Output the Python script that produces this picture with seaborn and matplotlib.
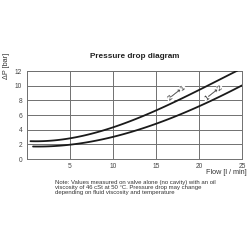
import matplotlib
matplotlib.use("Agg")
import matplotlib.pyplot as plt
import seaborn as sns
import numpy as np
import pandas as pd

flow_21 = [0.4, 5, 10, 12.8, 15, 20, 24.5]
dp_21 = [2.35, 3.05, 4.2, 5.4, 6.6, 9.6, 12.0]
flow_12 = [0.7, 5, 10, 12.8, 15, 20, 25]
dp_12 = [1.68, 2.0, 3.05, 3.9, 4.7, 7.3, 10.0]
xticks = [5, 10, 15, 20, 25]
yticks = [0, 2, 4, 6, 8, 10, 12]

def smooth(xs, ys, n=80):
    xs = np.asarray(xs, float); ys = np.asarray(ys, float)
    c = np.polyfit(xs, ys, 3)
    xx = np.linspace(xs[0], xs[-1], n)
    return xx, np.polyval(c, xx)

sns.set_theme(style="white")
plt.rcParams['font.family'] = ['Liberation Sans', 'DejaVu Sans']

fig = plt.figure(figsize=(2.5, 2.5), dpi=100)
ax = fig.add_axes([0.108, 0.364, 0.86, 0.352])

rows = []
for name, fx, fy in [("2→1", flow_21, dp_21), ("1→2", flow_12, dp_12)]:
    xx, yy = smooth(fx, fy)
    rows.append(pd.DataFrame({"flow": xx, "dp": yy, "dir": name}))
df = pd.concat(rows)
sns.lineplot(data=df, x="flow", y="dp", units="dir", estimator=None, color="#1a1a1a",
             lw=1.3, ax=ax, legend=False, zorder=3)

ax.set_xlim(0, 25)
ax.set_ylim(0, 12)
ax.set_yticks(yticks)
ax.set_xticks([0] + xticks)
ax.set_xticklabels([""] + [str(v) for v in xticks])
ax.grid(True, color="#707070", lw=0.7)
ax.set_axisbelow(True)
for s in ax.spines.values():
    s.set_color("#707070"); s.set_linewidth(0.7)
ax.tick_params(axis="both", labelsize=4.8, colors="#444444", length=2, width=0.6, pad=1.5)
ax.tick_params(axis="x", length=0, pad=3)
ax.set_xlabel(""); ax.set_ylabel("")

bb = dict(facecolor="white", edgecolor="none", pad=0.3)
ax.text(17.4, 8.9, "2⟶1", rotation=38, fontsize=6, ha="center", va="center",
        color="#333333", bbox=bb, zorder=2)
ax.text(21.7, 8.9, "1⟶2", rotation=38, fontsize=6, ha="center", va="center",
        color="#333333", bbox=bb, zorder=2)

fig.text(0.54, 0.772, "Pressure drop diagram", ha="center", va="center", fontsize=5.9,
         fontweight="bold", color="#222222")
fig.text(0.028, 0.735, "ΔP [bar]", rotation=90, ha="center", va="center", fontsize=5.2, color="#333333")
fig.text(0.988, 0.31, "Flow [l / min]", ha="right", va="center", fontsize=5.2, color="#333333")
fig.text(0.22, 0.28, "Note: Values measured on valve alone (no cavity) with an oil\n"
         "viscosity of 46 cSt at 50 °C. Pressure drop may change\n"
         "depending on fluid viscosity and temperature",
         ha="left", va="top", fontsize=4.3, color="#333333", linespacing=1.05)

fig.savefig("out.png", dpi=100, facecolor="white")
